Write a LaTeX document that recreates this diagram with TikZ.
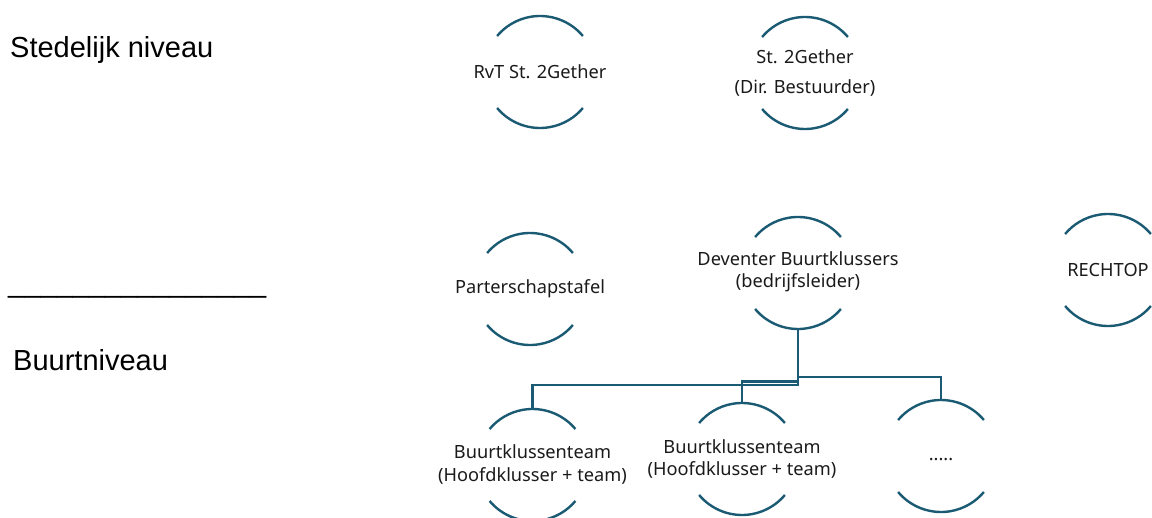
\documentclass[tikz,border=0pt]{standalone}
\usepackage{fontspec}
\setmainfont{Liberation Sans}
\newfontfamily\circfont{Noto Sans}
\definecolor{arcblue}{HTML}{1B5A73}
\definecolor{txt}{HTML}{1A1A1A}
\tikzset{
  x=1pt, y=1pt,
  orgnode/.style={inner sep=0pt, outer sep=0pt,
    font=\circfont\fontsize{18.2}{22.5}\selectfont, text=txt, align=center},
  arcline/.style={draw=arcblue, line width=2.4pt},
  conn/.style={draw=arcblue, line width=2.4pt},
  levellabel/.style={font=\fontsize{29}{34}\selectfont, anchor=base west, inner sep=0pt}
}
% arcs of radius 56 round the centre of a node, plus named top/bottom points
\newcommand\orgarcs[2][0pt]{%
  \draw[arcline] ([shift={(40:56)}]#2.center) arc[start angle=40,end angle=140,radius=56pt];
  \draw[arcline] ([shift={(220:56)}]#2.center) arc[start angle=220,end angle=320,radius=56pt];
  \coordinate (#2-top) at ([yshift=56pt]#2.center);
  \coordinate (#2-bot) at ([yshift=-56pt]#2.center);}
\begin{document}
\begin{tikzpicture}
\useasboundingbox (0,0) rectangle (1152,-518);
% level labels
\node[levellabel] (stad) at (10,-58) {Stedelijk niveau};
\node[levellabel] (sep) at (8,-293) {\_\_\_\_\_\_\_\_\_\_\_\_\_\_\_\_};
\node[levellabel] (buurt) at (13,-371) {Buurtniveau};
% nodes
\node[orgnode] (rvt) at (540,-72) {RvT St. 2Gether};
\node[orgnode, font=\circfont\fontsize{18.2}{30}\selectfont] (st) at (805,-73) {St. 2Gether\\(Dir. Bestuurder)};
\node[orgnode] (part) at (530,-289) {Parterschapstafel};
\node[orgnode] (dev) at (798,-272) {Deventer Buurtklussers\\(bedrijfsleider)};
\node[orgnode] (recht) at (1108,-270) {RECHTOP};
\node[orgnode] (b1) at (532.5,-464.5) {Buurtklussenteam\\(Hoofdklusser + team)};
\node[orgnode] (b2) at (742,-459) {Buurtklussenteam\\(Hoofdklusser + team)};
\node[orgnode] (b3) at (941,-460) {.....};
\orgarcs{rvt}\orgarcs{st}\orgarcs{part}\orgarcs{recht}
\coordinate (dev-c) at (798,-273);
\draw[arcline] ([shift={(40:56)}]dev-c) arc[start angle=40,end angle=140,radius=56pt];
\draw[arcline] ([shift={(220:56)}]dev-c) arc[start angle=220,end angle=320,radius=56pt];
\coordinate (dev-bot) at ([yshift=-56pt]dev-c);
\coordinate (b1c) at (532.5,-465);
\coordinate (b2c) at (742,-459);
\coordinate (b3c) at (941,-456);
\foreach \c in {b1c,b2c,b3c}{
  \draw[arcline] ([shift={(40:56)}]\c) arc[start angle=40,end angle=140,radius=56pt];
  \draw[arcline] ([shift={(220:56)}]\c) arc[start angle=220,end angle=320,radius=56pt];
}
\coordinate (b1-top) at ([yshift=56pt]b1c);
\coordinate (b2-top) at ([yshift=56pt]b2c);
\coordinate (b3-top) at ([yshift=56pt]b3c);
% connectors
\draw[conn] (dev-bot) -- ++(0,-56) -| (b1-top);
\draw[conn] (dev-bot) ++(0,-48) -| (b3-top);
\draw[conn] (b2-top) |- ([yshift=-52.5pt]dev-bot);
\end{tikzpicture}
\end{document}
